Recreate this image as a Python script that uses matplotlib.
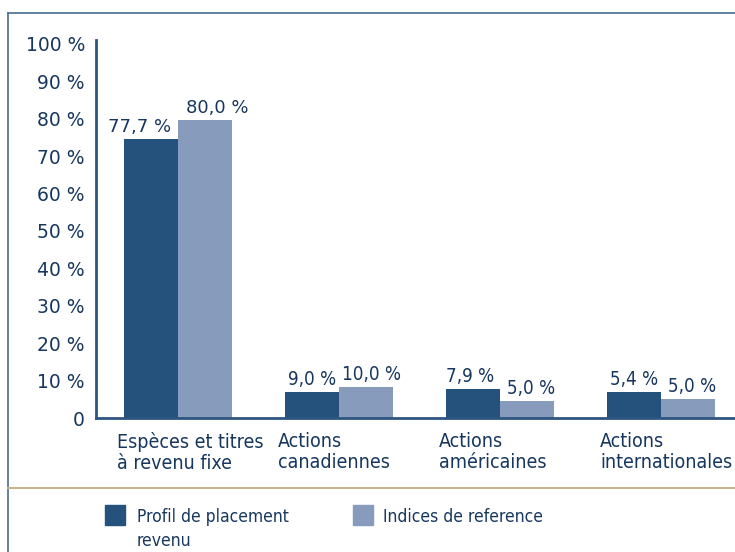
import matplotlib
matplotlib.use("Agg")
from matplotlib import pyplot as plt
from matplotlib.lines import Line2D
from matplotlib.patches import Rectangle

# Data
categories = ["Espèces et titres\nà revenu fixe", "Actions\ncanadiennes",
              "Actions\naméricaines", "Actions\ninternationales"]
profil_labels = ["77,7 %", "9,0 %", "7,9 %", "5,4 %"]
indices_labels = ["80,0 %", "10,0 %", "5,0 %", "5,0 %"]
# bar heights as drawn in the reference (%)
profil_heights = [74.6, 7.0, 7.8, 7.0]
indices_heights = [79.7, 8.3, 4.5, 5.1]
yticks = list(range(0, 101, 10))
ytick_labels = ["0"] + [f"{v} %" for v in yticks[1:]]
legend_labels = ["Profil de placement\nrevenu", "Indices de reference"]

# horizontal nudges of the value labels (points), as in the reference
profil_nudge = [-8, 0, -2, 0]
indices_nudge = [9, 4, 3, 3]

DARK = "#24527D"
LIGHT = "#879CBC"
TEXT = "#17375E"
FRAME = "#4A6A90"
TAN = "#C9B68E"
COND = dict(family="DejaVu Sans", stretch="condensed")

W, H = 735, 552
fig = plt.figure(figsize=(W / 100, H / 100), dpi=100)


def px(x0, y0, x1, y1):
    return [x0 / W, 1 - y1 / H, (x1 - x0) / W, (y1 - y0) / H]


# frame around the panel
fig.add_artist(Line2D([8 / W, 8 / W], [0, 1 - 13 / H], transform=fig.transFigure,
                      color=FRAME, lw=1.2))
fig.add_artist(Line2D([8 / W, 1], [1 - 13 / H, 1 - 13 / H], transform=fig.transFigure,
                      color=FRAME, lw=1.2))
fig.add_artist(Line2D([8 / W, 1], [1 - 488 / H, 1 - 488 / H], transform=fig.transFigure,
                      color=TAN, lw=1.5))

ax = fig.add_axes(px(96, 40, 735, 418))
width = 0.335
xs = range(len(categories))
ax.bar([x - width / 2 for x in xs], profil_heights, width, color=DARK)
ax.bar([x + width / 2 for x in xs], indices_heights, width, color=LIGHT)

for i, x in enumerate(xs):
    if i == 0:
        kw = dict(family="DejaVu Sans", fontsize=13)
    else:
        kw = dict(COND, fontsize=13.5)
    ax.annotate(profil_labels[i], (x - width / 2, profil_heights[i]),
                xytext=(profil_nudge[i], 2), textcoords="offset points",
                ha="center", va="bottom", color=TEXT, **kw)
    ax.annotate(indices_labels[i], (x + width / 2, indices_heights[i]),
                xytext=(indices_nudge[i], 2), textcoords="offset points",
                ha="center", va="bottom", color=TEXT, **kw)
    ax.annotate(categories[i], (x - width, 0), xytext=(-5, -10),
                textcoords="offset points", ha="left", va="top",
                color=TEXT, fontsize=14, linespacing=1.15,
                annotation_clip=False, **COND)

ax.set_xlim(-0.509, 3.46)
ax.set_ylim(0, 101)
ax.set_yticks(yticks)
ax.set_yticklabels(ytick_labels, family="DejaVu Sans", fontsize=13.5, color=TEXT)
ax.set_xticks([])
ax.tick_params(axis="y", length=0, pad=8)
for side in ("top", "right"):
    ax.spines[side].set_visible(False)
for side in ("left", "bottom"):
    ax.spines[side].set_color("#2D5580")
    ax.spines[side].set_linewidth(2)

# legend
fig.add_artist(Rectangle((105 / W, 1 - 525 / H), 20 / W, 20 / H,
                         transform=fig.transFigure, color=DARK))
fig.add_artist(Rectangle((353 / W, 1 - 525 / H), 20 / W, 20 / H,
                         transform=fig.transFigure, color=LIGHT))
fig.text(137 / W, 1 - 508 / H, legend_labels[0], ha="left", va="top",
         color=TEXT, fontsize=12.5, linespacing=1.45, **COND)
fig.text(383 / W, 1 - 508 / H, legend_labels[1], ha="left", va="top",
         color=TEXT, fontsize=12.5, **COND)

fig.savefig("out.png", dpi=100)
